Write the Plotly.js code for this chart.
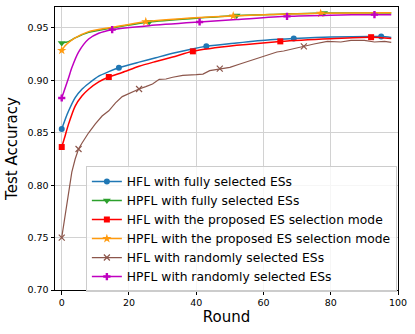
<!DOCTYPE html>
<html>
<head>
<meta charset="utf-8">
<script src="https://cdn.plot.ly/plotly-3.0.1.min.js"></script>
<style>
  html, body { margin: 0; padding: 0; background: #fff; }
  #chart { width: 415px; height: 334px; }
</style>
</head>
<body>
<div id="chart"></div>
<script>
// rounds / accuracy
const HFL_FULL_R   = [0, 1, 2, 4, 6, 8, 11, 14, 17, 23, 28, 33, 43, 52, 62, 69, 80, 95, 98];
const HFL_FULL_Y   = [0.8536, 0.8625, 0.8705, 0.8835, 0.8915, 0.897, 0.904, 0.9083, 0.912, 0.9174, 0.9216, 0.9258, 0.9325, 0.9357, 0.9388, 0.94, 0.9414, 0.9418, 0.941];
const HFL_FULL_M   = [0, 17, 43, 69, 95];

const HPFL_FULL_R  = [0, 2, 4, 8, 15, 26, 41, 52, 65, 78, 98];
const HPFL_FULL_Y  = [0.9357, 0.937, 0.9405, 0.9458, 0.95, 0.9557, 0.9595, 0.962, 0.9632, 0.9643, 0.9643];
const HPFL_FULL_M  = [0, 26, 52, 78];

const HFL_PROP_R   = [0, 1, 2, 4, 6, 8, 11, 14, 18, 23, 28, 33, 39, 52, 65, 80, 92, 98];
const HFL_PROP_Y   = [0.8364, 0.847, 0.858, 0.8755, 0.885, 0.8915, 0.8985, 0.9032, 0.9075, 0.9135, 0.918, 0.9222, 0.9277, 0.9334, 0.9372, 0.9398, 0.9412, 0.94];
const HFL_PROP_M   = [0, 14, 39, 65, 92];

const HPFL_PROP_R  = [0, 1, 2, 4, 8, 15, 25, 41, 51, 65, 77, 98];
const HPFL_PROP_Y  = [0.9286, 0.933, 0.936, 0.9405, 0.9465, 0.9506, 0.956, 0.96, 0.9615, 0.963, 0.964, 0.9645];
const HPFL_PROP_M  = [0, 25, 51, 77];

const HFL_RAND_R   = [0, 1, 2, 3, 4, 5, 6, 8, 10, 12, 14, 16, 18, 20, 23, 25, 27, 29, 31, 33, 36, 40, 42, 44, 47, 50, 53, 56, 59, 62, 64, 66, 69, 72, 75, 79, 83, 86, 90, 93, 96, 98];
const HFL_RAND_Y   = [0.75, 0.772, 0.794, 0.8125, 0.825, 0.8345, 0.84, 0.85, 0.8585, 0.866, 0.871, 0.8785, 0.8845, 0.8875, 0.8918, 0.894, 0.8965, 0.901, 0.9013, 0.903, 0.9048, 0.9054, 0.906, 0.9093, 0.9112, 0.9124, 0.9156, 0.9188, 0.9214, 0.9252, 0.9271, 0.928, 0.9303, 0.9325, 0.9347, 0.9372, 0.9366, 0.9382, 0.9382, 0.9366, 0.9372, 0.9363];
const HFL_RAND_M   = [0, 5, 23, 47, 72];

const HPFL_RAND_R  = [0, 2, 3, 5, 8, 11, 15, 26, 41, 52, 67, 80, 93, 98];
const HPFL_RAND_Y  = [0.8832, 0.902, 0.912, 0.927, 0.9395, 0.945, 0.9484, 0.9522, 0.9557, 0.958, 0.9611, 0.9622, 0.9627, 0.9625];
const HPFL_RAND_M  = [0, 15, 41, 67, 93];

const X_TICKS = [0, 20, 40, 60, 80, 100];
const Y_TICKS = [0.70, 0.75, 0.80, 0.85, 0.90, 0.95];

const FONT = 'DejaVu Sans, sans-serif';
const traces = [];

function addSeries(name, rounds, vals, marks, color, symbol, size, width, shape) {
  traces.push({
    x: rounds, y: vals, type: 'scatter', mode: 'lines',
    line: { color, width, shape, smoothing: 0.7 },
    showlegend: false, hoverinfo: 'skip',
  });
  // marker points split by gaps so only the symbols are drawn
  const mx = [], my = [];
  marks.forEach((r, i) => {
    if (i) { mx.push(null); my.push(null); }
    mx.push(r); my.push(vals[rounds.indexOf(r)]);
  });
  const thin = symbol === 'x-thin';
  traces.push({
    x: mx, y: my, name, type: 'scatter', mode: 'lines+markers',
    connectgaps: false,
    line: { color, width },
    marker: { color, symbol, size, line: { color, width: thin ? 1.2 : 0 } },
  });
}

addSeries('HFL with fully selected ESs', HFL_FULL_R, HFL_FULL_Y, HFL_FULL_M, '#1f77b4', 'circle', 6, 1.5, 'spline');
addSeries('HPFL with fully selected ESs', HPFL_FULL_R, HPFL_FULL_Y, HPFL_FULL_M, '#2ca02c', 'triangle-down', 7, 1.5, 'spline');
addSeries('HFL with the proposed ES selection mode', HFL_PROP_R, HFL_PROP_Y, HFL_PROP_M, '#ff0000', 'square', 6, 1.5, 'spline');
addSeries('HPFL with the proposed ES selection mode', HPFL_PROP_R, HPFL_PROP_Y, HPFL_PROP_M, '#ff9a0e', 'star', 7, 1.5, 'spline');
addSeries('HFL with randomly selected ESs', HFL_RAND_R, HFL_RAND_Y, HFL_RAND_M, '#8c564b', 'x-thin', 6, 1.2, 'linear');
addSeries('HPFL with randomly selected ESs', HPFL_RAND_R, HPFL_RAND_Y, HPFL_RAND_M, '#c000c0', 'cross', 6, 1.5, 'spline');

const axisBase = {
  showline: true, mirror: true, linecolor: '#000', linewidth: 1,
  ticks: 'outside', ticklen: 3.5, tickwidth: 1, tickcolor: '#000',
  showgrid: true, gridcolor: '#d2d2d2', gridwidth: 1, zeroline: false,
  tickfont: { family: FONT, size: 9.5, color: '#000' },
};

Plotly.newPlot('chart', traces, {
  width: 415, height: 334,
  margin: { l: 55, r: 17, t: 7, b: 44, autoexpand: false },
  paper_bgcolor: '#fff', plot_bgcolor: '#fff',
  font: { family: FONT, color: '#000' },
  xaxis: {
    ...axisBase, range: [-2, 100], tickvals: X_TICKS,
    title: { text: 'Round', font: { family: FONT, size: 15 }, standoff: 4 },
  },
  yaxis: {
    ...axisBase, range: [0.70, 0.97], tickvals: Y_TICKS, tickformat: '.2f',
    title: { text: 'Test Accuracy', font: { family: FONT, size: 15 }, standoff: 6 },
  },
  legend: {
    x: 0.09, y: 0.438, xanchor: 'left', yanchor: 'top',
    bgcolor: 'rgba(255,255,255,0.8)', bordercolor: '#cccccc', borderwidth: 1,
    font: { family: FONT, size: 12.3, color: '#000' },
    itemwidth: 30,
  },
  showlegend: true,
}, { displayModeBar: false, staticPlot: true });
</script>
</body>
</html>
